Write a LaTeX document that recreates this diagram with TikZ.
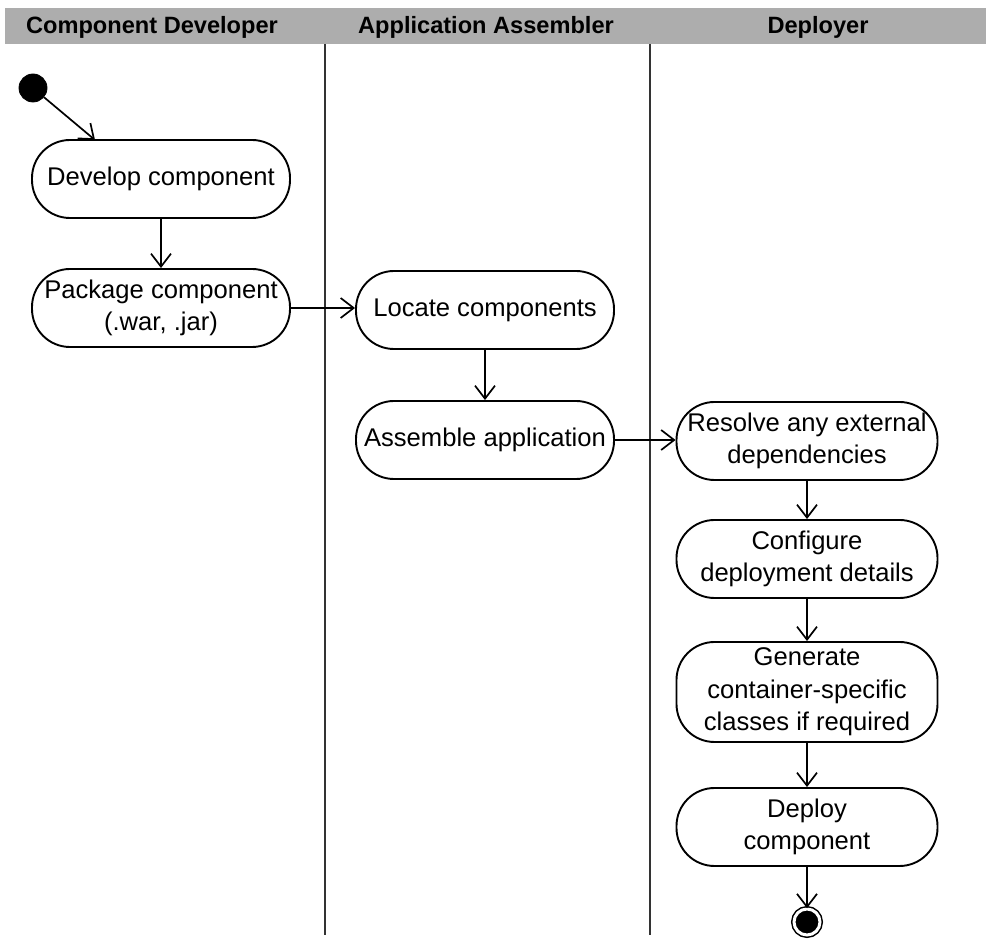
\documentclass[tikz,border=0pt]{standalone}
\usepackage{fontspec}
\setmainfont{Liberation Sans}
\usepackage{tikz}
\usetikzlibrary{arrows.meta}
\usepackage{xcolor}
\definecolor{bandgray}{gray}{0.68}
\tikzset{
  lanehd/.style ={font=\fontsize{11.8}{14}\selectfont\bfseries, inner sep=0pt},
  lane/.style   ={line width=0.75pt, black!80},
  % activity nodes (pill shaped)
  act/.style    ={draw, rounded corners=19pt, line width=0.95pt,
                  minimum width=129pt, minimum height=39pt, inner sep=2pt,
                  align=center, font=\fontsize{12.8}{16.2}\selectfont},
  startst/.style={circle, fill=black, draw=black, minimum size=14pt,
                  inner sep=0pt},
  endst/.style  ={circle, fill=black, draw=black, double=white,
                  double distance=1.5pt, line width=0.75pt,
                  minimum size=13pt, inner sep=0pt},
  flow/.style   ={-{Straight Barb[length=6.5pt, width=10pt]},
                  line width=0.85pt},
}
\begin{document}
\begin{tikzpicture}[x=0.5pt, y=-0.5pt]
  \useasboundingbox (0,0) rectangle (986,940);
  % swimlane header + separators
  \fill[bandgray] (5,8) rectangle (986,44);
  \node[lanehd] (hdev) at (152,27) {Component Developer};
  \node[lanehd] (hasm) at (486,27) {Application Assembler};
  \node[lanehd] (hdep) at (818,27) {Deployer};
  \draw[lane] (325,44) -- (325,935);
  \draw[lane] (650,44) -- (650,935);

  % component developer
  \node[startst] (start) at (33,88) {};
  \node[act] (develop) at (161,179) {Develop component};
  \node[act] (package) at (161,308) {Package component\\(.war, .jar)};
  \coordinate (devin) at (95,140);

  % application assembler
  \node[act] (locate) at (485,310) {Locate components};
  \node[act] (assemble) at (485,440) {Assemble application};

  % deployer
  \node[act, minimum width=130.5pt] (resolve) at (807,441)
    {Resolve any external\\dependencies};
  \node[act, minimum width=130.5pt] (config) at (807,559)
    {Configure\\deployment details};
  \node[act, minimum width=130.5pt, minimum height=50pt] (generate) at (807,692)
    {Generate\\container-specific\\classes if required};
  \node[act, minimum width=130.5pt] (deploy) at (807,827)
    {Deploy\\component};
  \node[endst] (stop) at (807,922) {};

  % transitions
  \draw[flow] (start) -- (devin);
  \draw[flow] (develop) -- (package);
  \draw[flow] (package) -- (locate.west |- package);
  \draw[flow] (locate) -- (assemble);
  \draw[flow] (assemble) -- (resolve.west |- assemble);
  \draw[flow] (resolve) -- (config);
  \draw[flow] (config) -- (generate);
  \draw[flow] (generate) -- (deploy);
  \draw[flow] (deploy) -- (stop);
\end{tikzpicture}
\end{document}
